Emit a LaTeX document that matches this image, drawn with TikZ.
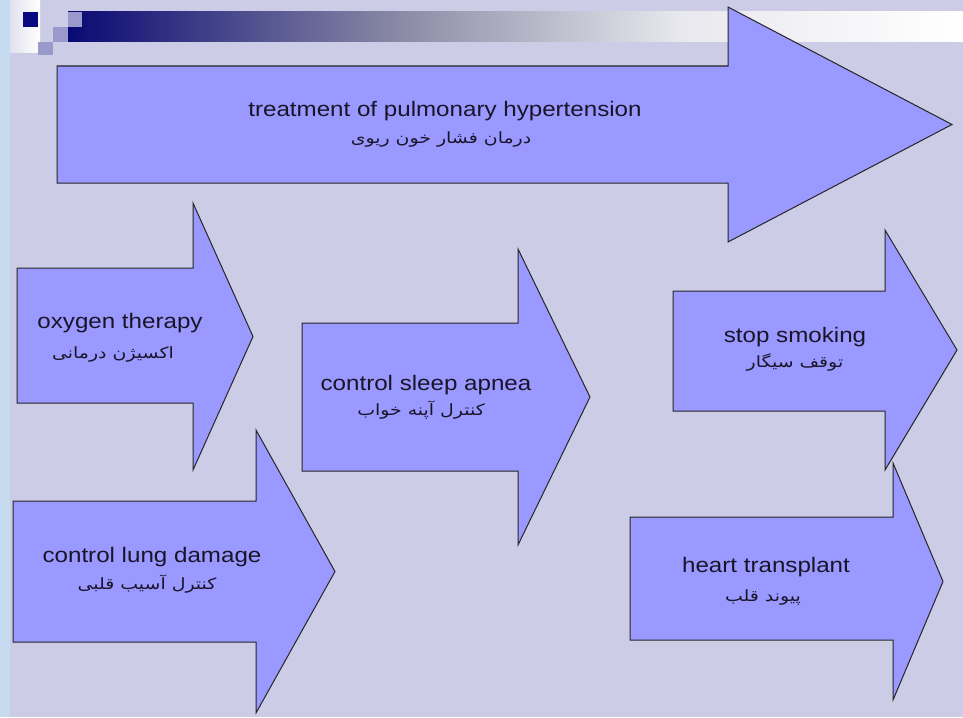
\documentclass[tikz,border=0pt]{standalone}
\usepackage{fontspec}
\setmainfont{Liberation Sans}
\newfontfamily\fafont[Script=Arabic]{DejaVu Sans}
\TeXXeTstate=1
\definecolor{pagebg}{RGB}{204,204,230}
\definecolor{sidestrip}{RGB}{198,218,240}
\definecolor{navy}{RGB}{10,10,128}
\definecolor{barmid}{RGB}{138,138,166}
\definecolor{barlight}{RGB}{232,232,238}
\definecolor{tile}{RGB}{153,153,204}
\definecolor{arrowfill}{RGB}{153,153,255}
\definecolor{ink}{RGB}{26,20,40}
\tikzset{
  blockarrow/.style={fill=arrowfill, draw=black!85, line width=1pt, line join=miter},
  entext/.style={inner sep=0pt, text=ink, font=\fontsize{21}{24}\selectfont},
  fatext/.style={inner sep=0pt, text=ink, font=\fafont\fontsize{15.5}{18}\selectfont},
}
% left x, shaft top, shaft bottom, head base x, head top, head bottom, tip x
\newcommand\drawblockarrow[7]{%
  \draw[blockarrow] (#1,#2) -- (#4,#2) -- (#4,#5) -- (#7,{(#5+#6)/2}) -- (#4,#6)
    -- (#4,#3) -- (#1,#3) -- cycle;}
\newcommand\wide[1]{\scalebox{1.15}[1]{#1}}
\newcommand\fa[1]{\scalebox{1.22}[1]{\beginR #1\endR}}
\begin{document}
\begin{tikzpicture}[x=1pt,y=-1pt]
  % page
  \fill[pagebg] (0,0) rectangle (963,717);
  \useasboundingbox (0,0) rectangle (963,717);
  \fill[sidestrip] (0,0) rectangle (10,717);
  % title ornament
  \shade[left color=pagebg!60!white, right color=white] (10,0) rectangle (40,53);
  \shade[left color=navy!90!black, right color=barmid] (68,12) rectangle (400,42);
  \shade[left color=barmid, right color=barlight] (399.5,12) rectangle (680,42);
  \shade[left color=barlight, right color=white] (679.5,12) rectangle (963,42);
  \fill[navy] (23,12) rectangle (38,27);
  \fill[tile] (68,12) rectangle (82,27);
  \fill[tile] (53,27) rectangle (68,42);
  \fill[tile] (38,42) rectangle (53,55);

  % arrows
  \drawblockarrow{57}{66}{183}{728}{7}{242}{952}
  \drawblockarrow{17}{268}{403}{193}{203}{470}{253}
  \drawblockarrow{302}{323}{471}{518}{249}{545}{590}
  \drawblockarrow{13}{501}{642}{256}{430}{713}{335}
  \drawblockarrow{673}{291}{411}{885}{230}{470}{957}
  \drawblockarrow{630}{517}{640}{893}{463}{700}{943}

  % labels
  \node[entext] (t1en) at (445,111) {\wide{treatment of pulmonary hypertension}};
  \node[fatext] (t1fa) at (441,140) {\fa{درمان فشار خون ریوی}};
  \node[entext] (t2en) at (120,323) {\wide{oxygen therapy}};
  \node[fatext] (t2fa) at (113,354) {\fa{اکسیژن درمانی}};
  \node[entext] (t3en) at (426,385) {\wide{control sleep apnea}};
  \node[fatext] (t3fa) at (421,410) {\fa{کنترل آپنه خواب}};
  \node[entext] (t4en) at (152,557) {\wide{control lung damage}};
  \node[fatext] (t4fa) at (147,584) {\fa{کنترل آسیب قلبی}};
  \node[entext] (t5en) at (795,337) {\wide{stop smoking}};
  \node[fatext] (t5fa) at (795,362) {\fa{توقف سیگار}};
  \node[entext] (t6en) at (766,567) {\wide{heart transplant}};
  \node[fatext] (t6fa) at (763,597) {\fa{پیوند قلب}};
\end{tikzpicture}
\end{document}
